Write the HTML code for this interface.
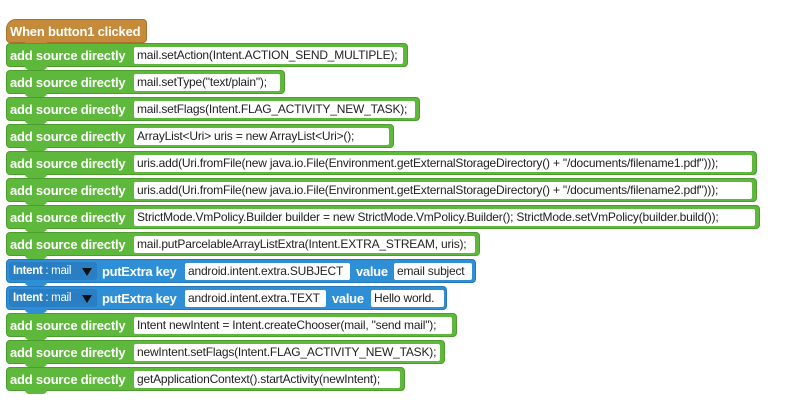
<!DOCTYPE html>
<html><head><meta charset="utf-8"><style>
body{margin:0;width:785px;height:408px;background:#fff;position:relative;overflow:hidden;font-family:"Liberation Sans",sans-serif}
.b{position:absolute;left:6px;height:24px;background:#5db83b;border:1px solid #4c9c2e;border-radius:4px;box-sizing:border-box}
.b .l{position:absolute;left:3px;top:4px;color:#fff;font-weight:bold;font-size:13px;letter-spacing:-0.2px;white-space:nowrap}
.f{position:absolute;top:3px;height:17px;background:#fff;border-radius:2px;color:#222;font-size:12px;line-height:17px;padding-left:3px;white-space:nowrap;overflow:hidden;box-sizing:border-box;letter-spacing:-0.2px}
.n{position:absolute;left:18px;top:22px;width:22px;height:4px;background:#5db83b;border-radius:0 0 4px 4px}
.bl{background:#2f8fd6;border-color:#2577b8}
.bl .n{background:#2f8fd6}
.dd{position:absolute;left:2px;top:2px;width:88px;height:18px;background:#2a7fc4;border-radius:3px;color:#fff;font-size:11.5px;line-height:18px;padding-left:4px;box-sizing:border-box;letter-spacing:-0.3px}
.dd b{font-weight:bold}
.dd i{position:absolute;left:73px;top:6px;width:0;height:0;border-left:5px solid transparent;border-right:5px solid transparent;border-top:8px solid #111}
.w{position:absolute;top:4px;color:#fff;font-weight:bold;font-size:13px;letter-spacing:-0.3px}
</style></head><body>
<div class="b" style="top:19px;width:141px;background:#c68a3b;border-color:#a8732e;border-radius:10px 4px 4px 4px"><span class="l">When button1 clicked</span><div class="n" style="background:#c68a3b"></div></div>

<div class="b" style="top:43px;width:402px"><span class="l">add source directly</span><div class="f" style="left:127px;width:269px">mail.setAction(Intent.ACTION_SEND_MULTIPLE);</div><div class="n"></div></div>
<div class="b" style="top:70px;width:279px"><span class="l">add source directly</span><div class="f" style="left:127px;width:146px">mail.setType("text/plain");</div><div class="n"></div></div>
<div class="b" style="top:97px;width:414px"><span class="l">add source directly</span><div class="f" style="left:127px;width:281px">mail.setFlags(Intent.FLAG_ACTIVITY_NEW_TASK);</div><div class="n"></div></div>
<div class="b" style="top:124px;width:388px"><span class="l">add source directly</span><div class="f" style="left:127px;width:255px">ArrayList&lt;Uri&gt; uris = new ArrayList&lt;Uri&gt;();</div><div class="n"></div></div>
<div class="b" style="top:151px;width:751px"><span class="l">add source directly</span><div class="f" style="left:127px;width:618px">uris.add(Uri.fromFile(new java.io.File(Environment.getExternalStorageDirectory() + "/documents/filename1.pdf")));</div><div class="n"></div></div>
<div class="b" style="top:178px;width:751px"><span class="l">add source directly</span><div class="f" style="left:127px;width:618px">uris.add(Uri.fromFile(new java.io.File(Environment.getExternalStorageDirectory() + "/documents/filename2.pdf")));</div><div class="n"></div></div>
<div class="b" style="top:205px;width:754px"><span class="l">add source directly</span><div class="f" style="left:127px;width:621px">StrictMode.VmPolicy.Builder builder = new StrictMode.VmPolicy.Builder(); StrictMode.setVmPolicy(builder.build());</div><div class="n"></div></div>
<div class="b" style="top:232px;width:474px"><span class="l">add source directly</span><div class="f" style="left:127px;width:341px">mail.putParcelableArrayListExtra(Intent.EXTRA_STREAM, uris);</div><div class="n"></div></div>

<div class="b bl" style="top:259px;width:470px"><div class="dd"><b>Intent</b> : mail<i></i></div><span class="w" style="left:95px">putExtra key</span><div class="f" style="left:178px;width:165px">android.intent.extra.SUBJECT</div><span class="w" style="left:349px">value</span><div class="f" style="left:387px;width:78px">email subject</div><div class="n"></div></div>
<div class="b bl" style="top:286px;width:441px"><div class="dd"><b>Intent</b> : mail<i></i></div><span class="w" style="left:95px">putExtra key</span><div class="f" style="left:178px;width:141px">android.intent.extra.TEXT</div><span class="w" style="left:325px">value</span><div class="f" style="left:364px;width:73px">Hello world.</div><div class="n"></div></div>

<div class="b" style="top:313px;width:451px"><span class="l">add source directly</span><div class="f" style="left:127px;width:318px">Intent newIntent = Intent.createChooser(mail, "send mail");</div><div class="n"></div></div>
<div class="b" style="top:340px;width:439px"><span class="l">add source directly</span><div class="f" style="left:127px;width:306px">newIntent.setFlags(Intent.FLAG_ACTIVITY_NEW_TASK);</div><div class="n"></div></div>
<div class="b" style="top:367px;width:399px"><span class="l">add source directly</span><div class="f" style="left:127px;width:266px">getApplicationContext().startActivity(newIntent);</div><div class="n"></div></div>
</body></html>
